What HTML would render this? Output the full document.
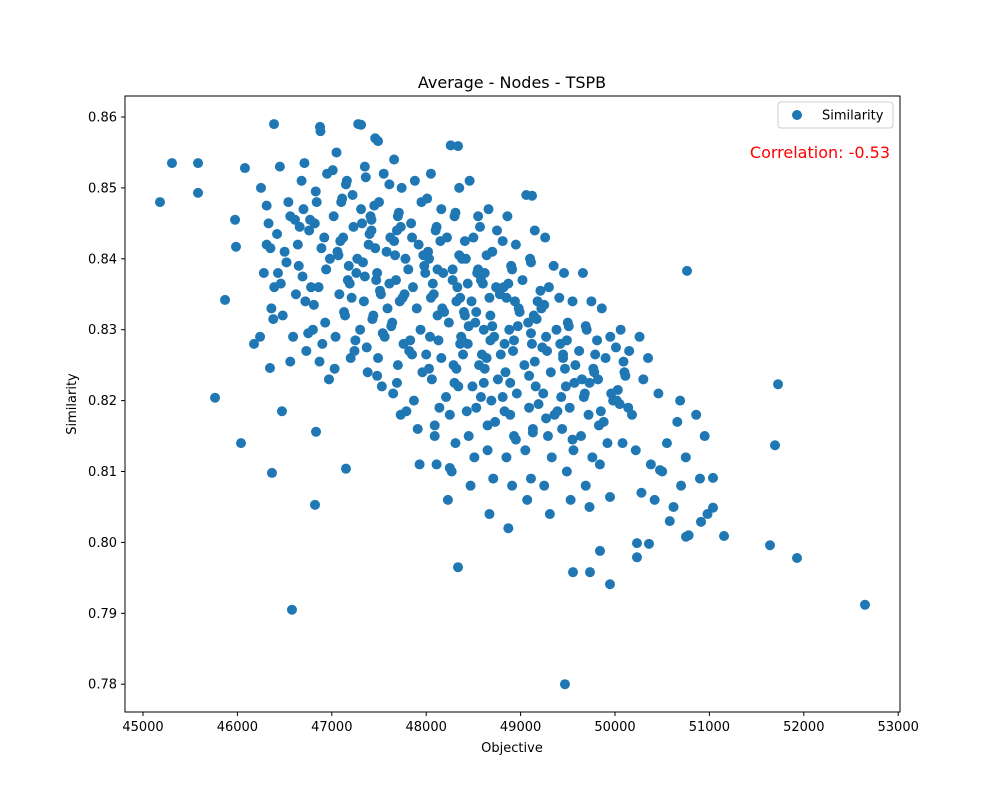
<!DOCTYPE html>
<html><head><meta charset="utf-8"><style>
body{margin:0;background:#fff;}
svg{display:block;font-family:"DejaVu Sans","Liberation Sans",sans-serif;}
</style></head><body>
<svg id="chart" width="1000" height="800">
<rect width="1000" height="800" fill="#fff"/>
<text x="512" y="88" text-anchor="middle" font-size="16">Average - Nodes - TSPB</text>
<g id="ticks"></g>
<g id="pts"></g>
<rect x="125" y="96" width="775" height="616" fill="none" stroke="#000" stroke-width="1"/>
<text x="512" y="752" text-anchor="middle" font-size="13">Objective</text>
<text x="76" y="404" text-anchor="middle" font-size="13" transform="rotate(-90 76 404)">Similarity</text>
<g>
<rect x="778" y="102" width="115" height="26" rx="3" fill="#fff" stroke="#ccc"/>
<circle cx="797" cy="115" r="5" fill="#1f77b4"/>
<text x="822" y="119.5" font-size="13">Similarity</text>
</g>
<text x="890" y="158" text-anchor="end" font-size="16" fill="#ff0000">Correlation: -0.53</text>
</svg>
<script>
const xTicks=[45000,46000,47000,48000,49000,50000,51000,52000,53000];
const yTicks=[0.78,0.79,0.80,0.81,0.82,0.83,0.84,0.85,0.86];
const yTickLabels=["0.78","0.79","0.80","0.81","0.82","0.83","0.84","0.85","0.86"];
const outlierX=[45180,45307,45583,45583,45763,45869,46038,46176,46345,46366,46472,46578,46833,46822,47150,49470,49555,49735,49947,49841,50233,50233,50360,50752,50911,51038,51155,51642,51928,52648,51727,51695,51038,50763,46080,45975,45985,46388,46875,47310,47490,48337,49121,48250,48337,49947,50477];
const outlierY=[0.8480,0.8535,0.8535,0.8493,0.8204,0.8342,0.8140,0.8280,0.8246,0.8098,0.8185,0.7905,0.8156,0.8053,0.8104,0.7800,0.7958,0.7958,0.7941,0.7988,0.7999,0.7979,0.7998,0.8008,0.8029,0.8049,0.8009,0.7996,0.7978,0.7912,0.8223,0.8137,0.8091,0.8383,0.8528,0.8455,0.8417,0.8590,0.8586,0.8589,0.8566,0.8559,0.8489,0.8105,0.7965,0.8064,0.8102];
const clusterX=[
46250,46330,46280,46360,46240,46310,46390,
46450,46560,46500,46620,46480,46540,46430,46590,
46680,46760,46650,46720,46800,46700,46640,46780,46730,
46880,46950,46840,46920,46980,46860,46930,46900,46820,46970,
47050,47160,47020,47120,47180,47080,47140,47040,47200,47100,47060,47170,
47280,47350,47220,47320,47390,47260,47340,47300,47240,47380,47310,47270,
47460,47550,47500,47420,47580,47480,47520,47440,47560,47490,47530,47410,47470,47590,
47660,47740,47700,47620,47780,47680,47720,47640,47760,47700,47650,47730,47690,47770,
47880,47950,47840,47920,47980,47860,47900,47940,47820,47960,47870,47910,47930,47850,47990,
48050,48160,48100,48020,48180,48080,48120,48040,48160,48060,48140,48090,48110,48030,48170,
48260,48350,48300,48220,48380,48280,48320,48240,48360,48290,48340,48250,48310,48270,48230,48330,48370,
48460,48550,48500,48420,48580,48480,48520,48440,48560,48490,48530,48450,48510,48470,48540,48410,
48660,48750,48700,48620,48780,48680,48720,48640,48760,48690,48730,48650,48710,48670,48740,48610,
48860,48950,48900,48820,48980,48880,48920,48840,48960,48890,48930,48850,48910,48870,48940,48830,
49060,49150,49100,49020,49180,49080,49120,49040,49160,49090,49130,49050,49110,49070,49140,
49260,49350,49300,49220,49380,49280,49320,49240,49360,49290,49330,49250,49310,49270,
49460,49550,49500,49420,49580,49480,49520,49440,49560,49490,49530,49450,
49660,49750,49700,49620,49780,49680,49720,49640,49760,49690,49730,49650,
49860,49950,49900,49820,49980,49880,49920,49840,49960,
50060,50150,50100,50020,50180,50080,50140,
50260,50350,50300,50220,50380,50280,
50460,50550,50500,50420,50580,
50660,50750,50700,50620,50780,50690,
50860,50950,50900,50980];
const clusterY=[
0.850,0.845,0.838,0.833,0.829,0.842,0.836,
0.853,0.846,0.841,0.835,0.832,0.848,0.838,0.829,
0.851,0.844,0.839,0.834,0.830,0.847,0.842,0.836,0.827,
0.858,0.852,0.848,0.843,0.840,0.836,0.831,0.828,0.845,0.823,
0.855,0.851,0.846,0.843,0.839,0.835,0.832,0.829,0.826,0.848,0.841,0.837,
0.859,0.853,0.849,0.845,0.842,0.838,0.834,0.830,0.827,0.824,0.847,0.840,
0.857,0.852,0.848,0.844,0.841,0.838,0.835,0.832,0.829,0.826,0.822,0.846,0.837,0.833,
0.854,0.850,0.846,0.843,0.840,0.837,0.834,0.831,0.828,0.825,0.821,0.818,0.844,0.835,
0.851,0.848,0.845,0.842,0.839,0.836,0.833,0.830,0.827,0.824,0.820,0.816,0.811,0.843,0.838,
0.852,0.847,0.844,0.841,0.838,0.835,0.832,0.829,0.826,0.823,0.819,0.815,0.811,0.840,0.833,
0.856,0.850,0.846,0.843,0.840,0.837,0.834,0.831,0.828,0.825,0.822,0.818,0.814,0.810,0.806,0.836,0.829,
0.851,0.846,0.843,0.840,0.837,0.834,0.831,0.828,0.825,0.822,0.819,0.815,0.812,0.808,0.838,0.832,
0.847,0.844,0.841,0.838,0.835,0.832,0.829,0.826,0.823,0.820,0.817,0.813,0.809,0.804,0.836,0.830,
0.846,0.842,0.839,0.836,0.833,0.830,0.827,0.824,0.821,0.818,0.815,0.812,0.808,0.802,0.834,0.828,
0.849,0.844,0.840,0.837,0.834,0.831,0.828,0.825,0.822,0.819,0.816,0.813,0.809,0.806,0.832,
0.843,0.839,0.836,0.833,0.830,0.827,0.824,0.821,0.818,0.815,0.812,0.808,0.804,0.829,
0.838,0.834,0.831,0.828,0.825,0.822,0.819,0.816,0.813,0.810,0.806,0.826,
0.838,0.834,0.830,0.827,0.824,0.821,0.818,0.815,0.812,0.808,0.805,0.823,
0.833,0.829,0.826,0.823,0.820,0.817,0.814,0.811,0.821,
0.830,0.827,0.824,0.820,0.818,0.814,0.819,
0.829,0.826,0.823,0.813,0.811,0.807,
0.821,0.814,0.810,0.806,0.803,
0.817,0.812,0.808,0.805,0.801,0.820,
0.818,0.815,0.809,0.804];
const denseX=[
46310,46420,46520,46380,46610,46460,46560,46350,
46710,46830,46770,46890,46690,46810,46750,46870,46940,46660,
47010,47110,47230,47070,47190,47130,47250,47030,47150,47090,47210,
47360,47450,47400,47330,47510,47430,47370,47480,47420,47350,47540,47460,
47610,47710,47660,47810,47750,47630,47850,47690,47790,47730,47610,47830,47670,
48010,48110,47970,48070,48190,48130,48030,48210,48090,48150,48050,48000,48120,
48310,48410,48280,48360,48450,48390,48300,48430,48350,48400,48320,48440,48380,
48570,48640,48600,48530,48680,48620,48580,48650,48550,48700,48610,48670,48590,
48810,48910,48850,48970,48790,48890,48830,48950,48870,48930,48810,48990,
49110,49210,49170,49230,49090,49190,49130,49250,49150,49270,49110,
49410,49510,49450,49570,49390,49490,49430,49550,49470,
49690,49790,49730,49850,49810,49670,49770,49830,
50010,50110,50050,50090,50030];
const denseY=[
0.8475,0.8435,0.8395,0.8315,0.8455,0.8365,0.8255,0.8415,
0.8535,0.8495,0.8455,0.8415,0.8375,0.8335,0.8295,0.8255,0.8385,0.8445,
0.8525,0.8485,0.8445,0.8405,0.8365,0.8325,0.8285,0.8245,0.8505,0.8425,0.8345,
0.8515,0.8475,0.8435,0.8395,0.8355,0.8315,0.8275,0.8235,0.8455,0.8375,0.8295,0.8415,
0.8505,0.8465,0.8425,0.8385,0.8345,0.8305,0.8265,0.8225,0.8185,0.8445,0.8365,0.8285,0.8405,
0.8485,0.8445,0.8405,0.8365,0.8325,0.8285,0.8245,0.8205,0.8165,0.8425,0.8345,0.8265,0.8385,
0.8465,0.8425,0.8385,0.8345,0.8305,0.8265,0.8225,0.8185,0.8405,0.8325,0.8245,0.8365,0.8285,
0.8445,0.8405,0.8365,0.8325,0.8285,0.8245,0.8205,0.8165,0.8385,0.8305,0.8225,0.8345,0.8265,
0.8425,0.8385,0.8345,0.8305,0.8265,0.8225,0.8185,0.8145,0.8365,0.8285,0.8205,0.8325,
0.8395,0.8355,0.8315,0.8275,0.8235,0.8195,0.8155,0.8335,0.8255,0.8175,0.8295,
0.8345,0.8305,0.8265,0.8225,0.8185,0.8285,0.8205,0.8145,0.8245,
0.8305,0.8265,0.8225,0.8185,0.8285,0.8205,0.8245,0.8165,
0.8275,0.8235,0.8195,0.8255,0.8215];
const NS="http://www.w3.org/2000/svg";
const xs=v=>143+(v-45000)*0.0944;
const ys=v=>117+(0.86-v)*7090;
const tg=document.getElementById('ticks');
xTicks.forEach(t=>{
 const l=document.createElementNS(NS,'line');
 l.setAttribute('x1',xs(t));l.setAttribute('x2',xs(t));l.setAttribute('y1',712);l.setAttribute('y2',716);l.setAttribute('stroke','#000');
 
 
 tg.appendChild(l);
 const tx=document.createElementNS(NS,'text');
 tx.setAttribute('x',xs(t));tx.setAttribute('y',731);tx.setAttribute('text-anchor','middle');tx.setAttribute('font-size','13');
 tx.textContent=t;
 
 
 tg.appendChild(tx);
});
yTicks.forEach((t,i)=>{
 const l=document.createElementNS(NS,'line');
 l.setAttribute('x1',121);l.setAttribute('x2',125);l.setAttribute('y1',ys(t));l.setAttribute('y2',ys(t));l.setAttribute('stroke','#000');
 
 
 tg.appendChild(l);
 const tx=document.createElementNS(NS,'text');
 tx.setAttribute('x',117);tx.setAttribute('y',ys(t)+4.5);tx.setAttribute('text-anchor','end');tx.setAttribute('font-size','13');
 tx.textContent=yTickLabels[i];
 
 
 tg.appendChild(tx);
});
const pg=document.getElementById('pts');
function plot(X,Y){
 X.forEach((x,i)=>{
  const c=document.createElementNS(NS,'circle');
  c.setAttribute('cx',xs(x));c.setAttribute('cy',ys(Y[i]));c.setAttribute('r',5);c.setAttribute('fill','#1f77b4');
  
  
  pg.appendChild(c);
 });
}
plot(clusterX,clusterY);
plot(denseX,denseY);
plot(outlierX,outlierY);
</script>
</body></html>
